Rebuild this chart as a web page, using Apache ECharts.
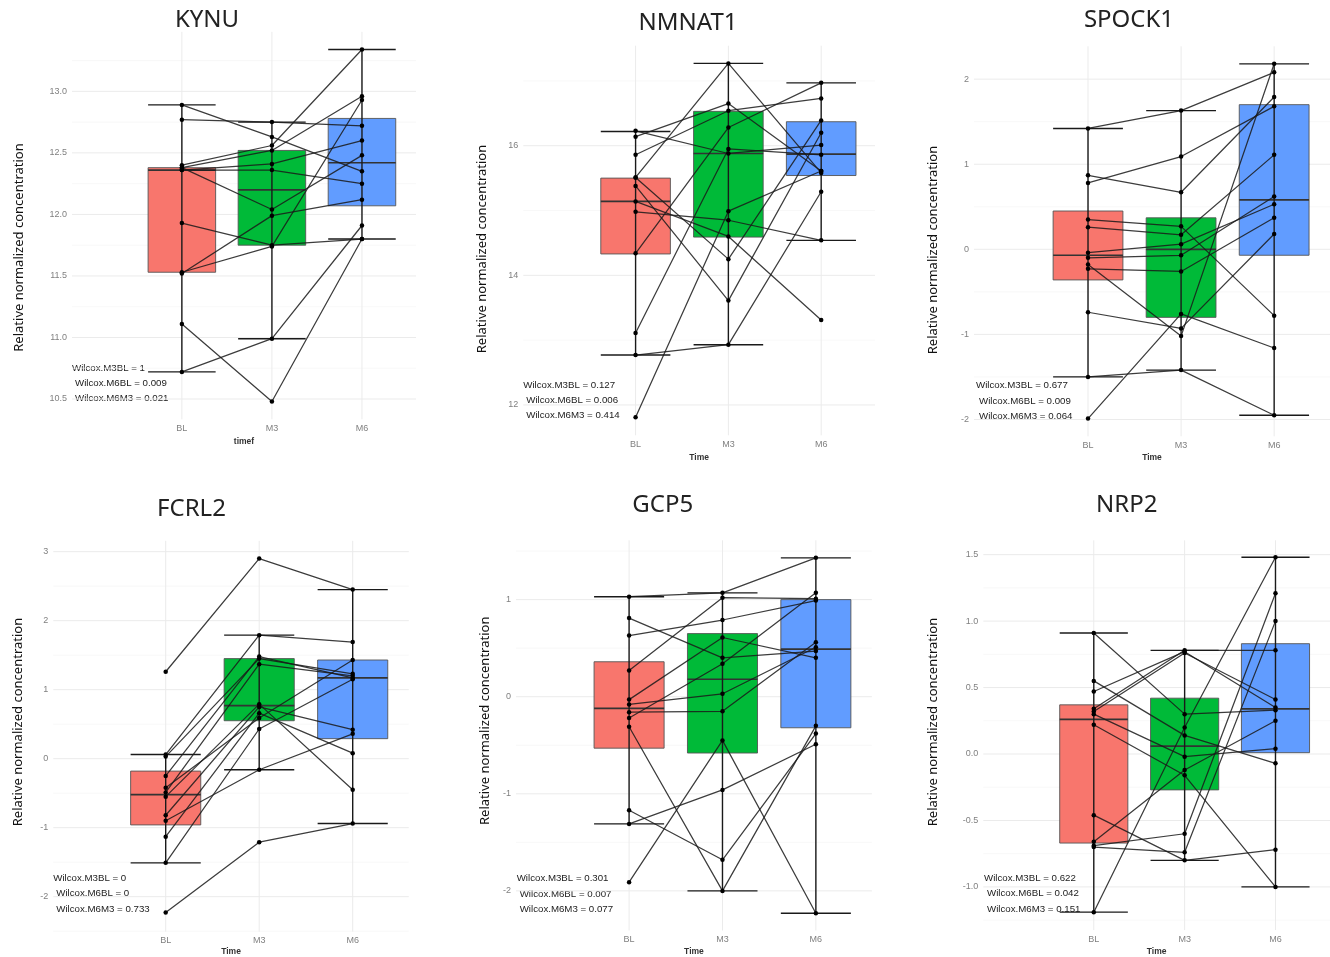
<!DOCTYPE html>
<html><head><meta charset="utf-8">
<script src="https://cdn.jsdelivr.net/npm/echarts@6/dist/echarts.min.js"></script>
<style>html,body{margin:0;padding:0;background:#fff}#c{width:1330px;height:957px}</style>
</head><body><div id="c"></div>
<script>
// ---------------- DATA ----------------
const timeLabels = ['BL', 'M3', 'M6'];
const genes = ['KYNU', 'NMNAT1', 'SPOCK1', 'FCRL2', 'GCP5', 'NRP2'];
const xAxisNames = ['timef', 'Time', 'Time', 'Time', 'Time', 'Time'];
const yTitle = 'Relative normalized concentration';

// subject trajectories [BL, M3, M6]
const kynuSubjects = [
  [12.89, 12.63, 12.35], [12.77, 12.75, 12.72], [12.40, 12.56, 13.34], [12.38, 12.52, 12.96],
  [12.36, 12.41, 12.60], [12.36, 12.36, 12.25], [11.93, 11.75, 11.80], [11.53, 11.74, 12.93],
  [11.52, 11.99, 12.12], [11.11, 10.48, 11.80], [10.72, 10.99, 11.91], [12.38, 12.04, 12.48]
];
const nmnat1Subjects = [
  [16.23, 15.88, 16.01], [16.14, 16.65, 15.61], [15.86, 16.54, 16.73], [15.51, 17.27, 15.58],
  [15.51, 14.25, 16.39], [15.38, 13.61, 16.20], [15.14, 14.60, 13.31], [14.98, 14.85, 14.54],
  [14.34, 16.28, 16.97], [13.11, 15.95, 15.86], [12.77, 12.93, 15.29], [11.81, 14.99, 15.61]
];
const spock1Subjects = [
  [1.42, 1.63, 2.08], [0.87, 0.67, 1.79], [0.78, 1.09, 1.68], [0.35, 0.27, -0.78],
  [0.26, 0.17, 1.11], [-0.04, 0.06, 0.53], [-0.10, -0.07, 0.62], [-0.18, -1.02, 2.18],
  [-0.23, -0.26, 0.37], [-0.74, -0.93, 0.18], [-1.50, -1.42, -1.95], [-1.99, -0.76, -1.16]
];
const fcrl2Subjects = [
  [1.26, 2.90, 2.45], [0.06, 1.79, 1.69], [0.03, 1.45, 1.23], [-0.25, 1.48, 1.17],
  [-0.42, 0.59, 1.43], [-0.49, 1.37, 1.20], [-0.55, 0.79, -0.45], [-0.82, 0.75, 0.42],
  [-0.90, -0.16, 0.36], [-1.13, 0.66, 0.08], [-1.51, 0.43, 1.15], [-2.23, -1.21, -0.94]
];
const gcp5Subjects = [
  [1.03, 1.07, 1.43], [0.81, 0.40, 0.47], [0.63, 0.79, 0.99], [0.27, 1.02, 1.01],
  [-0.03, 0.61, 0.40], [-0.08, 0.03, 0.51], [-0.16, -0.15, 0.56], [-0.22, 0.34, 1.07],
  [-0.31, -2.00, -0.30], [-1.17, -1.68, -0.38], [-1.31, -0.96, -0.49], [-1.91, -0.45, -2.23]
];
const nrp2Subjects = [
  [0.91, 0.30, 0.33], [0.55, 0.14, -0.07], [0.47, 0.77, 0.35], [0.34, 0.78, 0.78],
  [0.32, 0.76, 0.41], [0.30, -0.02, 0.04], [0.22, -0.16, -1.00], [-0.46, -0.80, -0.72],
  [-0.66, -0.12, 0.25], [-0.69, -0.60, 1.21], [-0.70, -0.74, 1.00], [-1.19, 0.20, 1.48]
];

// box statistics per time point: [lower whisker, Q1, median, Q3, upper whisker]
const kynuBoxes = [[10.72, 11.53, 12.36, 12.38, 12.89], [10.99, 11.75, 12.20, 12.52, 12.75], [11.80, 12.07, 12.42, 12.78, 13.34]];
const nmnat1Boxes = [[12.77, 14.33, 15.14, 15.50, 16.22], [12.93, 14.59, 15.88, 16.53, 17.27], [14.54, 15.54, 15.87, 16.37, 16.97]];
const spock1Boxes = [[-1.50, -0.36, -0.07, 0.45, 1.42], [-1.42, -0.80, 0.00, 0.37, 1.63], [-1.95, -0.07, 0.58, 1.70, 2.18]];
const fcrl2Boxes = [[-1.51, -0.96, -0.52, -0.18, 0.06], [-0.16, 0.55, 0.77, 1.45, 1.79], [-0.94, 0.29, 1.17, 1.43, 2.45]];
const gcp5Boxes = [[-1.31, -0.53, -0.12, 0.36, 1.03], [-2.00, -0.58, 0.18, 0.65, 1.07], [-2.23, -0.32, 0.49, 1.00, 1.43]];
const nrp2Boxes = [[-1.19, -0.67, 0.26, 0.37, 0.91], [-0.80, -0.27, 0.06, 0.42, 0.78], [-1.00, 0.01, 0.34, 0.83, 1.48]];

// y tick labels
const kynuTicks = [10.5, 11.0, 11.5, 12.0, 12.5, 13.0];
const nmnat1Ticks = [12, 14, 16];
const spock1Ticks = [-2, -1, 0, 1, 2];
const fcrl2Ticks = [-2, -1, 0, 1, 2, 3];
const gcp5Ticks = [-2, -1, 0, 1];
const nrp2Ticks = [-1.0, -0.5, 0.0, 0.5, 1.0, 1.5];

// Wilcoxon annotations
const kynuWilcox = ['Wilcox.M3BL = 1', 'Wilcox.M6BL = 0.009', 'Wilcox.M6M3 = 0.021'];
const nmnat1Wilcox = ['Wilcox.M3BL = 0.127', 'Wilcox.M6BL = 0.006', 'Wilcox.M6M3 = 0.414'];
const spock1Wilcox = ['Wilcox.M3BL = 0.677', 'Wilcox.M6BL = 0.009', 'Wilcox.M6M3 = 0.064'];
const fcrl2Wilcox = ['Wilcox.M3BL = 0', 'Wilcox.M6BL = 0', 'Wilcox.M6M3 = 0.733'];
const gcp5Wilcox = ['Wilcox.M3BL = 0.301', 'Wilcox.M6BL = 0.007', 'Wilcox.M6M3 = 0.077'];
const nrp2Wilcox = ['Wilcox.M3BL = 0.622', 'Wilcox.M6BL = 0.042', 'Wilcox.M6M3 = 0.151'];

// ---------------- LAYOUT / STYLE ----------------
const panels = [
  { subjects: kynuSubjects, boxes: kynuBoxes, ticks: kynuTicks, dec: 1, wilcox: kynuWilcox },
  { subjects: nmnat1Subjects, boxes: nmnat1Boxes, ticks: nmnat1Ticks, dec: 0, wilcox: nmnat1Wilcox },
  { subjects: spock1Subjects, boxes: spock1Boxes, ticks: spock1Ticks, dec: 0, wilcox: spock1Wilcox },
  { subjects: fcrl2Subjects, boxes: fcrl2Boxes, ticks: fcrl2Ticks, dec: 0, wilcox: fcrl2Wilcox },
  { subjects: gcp5Subjects, boxes: gcp5Boxes, ticks: gcp5Ticks, dec: 0, wilcox: gcp5Wilcox },
  { subjects: nrp2Subjects, boxes: nrp2Boxes, ticks: nrp2Ticks, dec: 1, wilcox: nrp2Wilcox }
];
const layouts = [
  { left: 72, top: 31.8, width: 344, height: 387.5, xMin: -0.22, xMax: 3.6, yMin: 10.335, yMax: 13.484, nameGap: 18, title: [207, 20.5], yt: [19, 247.5], wx: [72, 368] },
  { left: 523.3, top: 45.7, width: 351.7, height: 389.6, xMin: -0.21, xMax: 3.58, yMin: 11.532, yMax: 17.543, nameGap: 17.7, title: [688, 22.8], yt: [482.7, 249], wx: [523.3, 385] },
  { left: 974, top: 46.3, width: 356.9, height: 390, xMin: -0.225, xMax: 3.6, yMin: -2.198, yMax: 2.386, nameGap: 16.8, title: [1129, 20], yt: [933.3, 250], wx: [976, 385.7] },
  { left: 53.3, top: 540.8, width: 355.5, height: 390.9, xMin: -0.202, xMax: 3.6, yMin: -2.5075, yMax: 3.1575, nameGap: 15, title: [191.5, 508.8], yt: [18.3, 722], wx: [53.3, 878.3] },
  { left: 516, top: 540.3, width: 355.9, height: 390.2, xMin: -0.211, xMax: 3.6, yMin: -2.408, yMax: 1.611, nameGap: 16.2, title: [662.7, 505], yt: [485, 720.8], wx: [516.7, 878.7] },
  { left: 983.3, top: 540.3, width: 347.4, height: 389.8, xMin: -0.216, xMax: 3.6, yMin: -1.325, yMax: 1.608, nameGap: 16.6, title: [1126.7, 505], yt: [933.3, 722], wx: [984, 878.3] }
];
const boxColors = ['#F8766D', '#00BA38', '#619CFF'];

function gridRender(params, api) {
  const cs = params.coordSys;
  const o = api.value(0), v = api.value(1), major = api.value(2);
  const style = { stroke: major ? '#ebebeb' : '#f5f5f5', lineWidth: major ? 1 : 0.7 };
  if (o === 0) {
    const y = api.coord([1, v])[1];
    return { type: 'line', shape: { x1: cs.x, y1: y, x2: cs.x + cs.width, y2: y }, style };
  }
  const x = api.coord([v, 0])[0];
  return { type: 'line', shape: { x1: x, y1: cs.y, x2: x, y2: cs.y + cs.height }, style };
}

function boxRender(params, api) {
  const x = api.value(0), lo = api.value(1), q1 = api.value(2), med = api.value(3), q3 = api.value(4), hi = api.value(5), ci = api.value(6);
  const hw = 0.375;
  const tl = api.coord([x - hw, q3]), br = api.coord([x + hw, q1]);
  const mL = api.coord([x - hw, med]), mR = api.coord([x + hw, med]);
  const top = api.coord([x, hi]), bot = api.coord([x, lo]);
  const cl = api.coord([x - hw, hi]), cr = api.coord([x + hw, hi]);
  const dl = api.coord([x - hw, lo]), dr = api.coord([x + hw, lo]);
  const wStyle = { stroke: '#1a1a1a', lineWidth: 1.4 };
  return {
    type: 'group', children: [
      { type: 'rect', shape: { x: tl[0], y: tl[1], width: br[0] - tl[0], height: br[1] - tl[1] }, style: { fill: boxColors[ci], stroke: '#555', lineWidth: 0.9 } },
      { type: 'line', shape: { x1: mL[0], y1: mL[1], x2: mR[0], y2: mR[1] }, style: { stroke: '#333', lineWidth: 1.7 } },
      { type: 'line', shape: { x1: top[0], y1: top[1], x2: bot[0], y2: bot[1] }, style: wStyle },
      { type: 'line', shape: { x1: cl[0], y1: cl[1], x2: cr[0], y2: cr[1] }, style: wStyle },
      { type: 'line', shape: { x1: dl[0], y1: dl[1], x2: dr[0], y2: dr[1] }, style: wStyle }
    ]
  };
}

const option = { animation: false, backgroundColor: '#fff', grid: [], xAxis: [], yAxis: [], series: [], graphic: [] };

panels.forEach((p, i) => {
  const L = layouts[i];
  option.grid.push({ left: L.left, top: L.top, width: L.width, height: L.height });
  option.xAxis.push({
    gridIndex: i, type: 'value', min: L.xMin, max: L.xMax,
    axisLine: { show: false }, axisTick: { show: false }, splitLine: { show: false },
    axisLabel: { customValues: [1, 2, 3], formatter: v => timeLabels[Math.round(v) - 1] || '', color: '#808080', fontSize: 9, margin: 4.5, fontFamily: 'Liberation Sans' },
    name: xAxisNames[i], nameLocation: 'middle', nameGap: L.nameGap,
    nameTextStyle: { fontWeight: 'bold', fontSize: 8.5, color: '#333', fontFamily: 'Liberation Sans' }
  });
  option.yAxis.push({
    gridIndex: i, type: 'value', min: L.yMin, max: L.yMax,
    axisLine: { show: false }, axisTick: { show: false }, splitLine: { show: false },
    axisLabel: { customValues: p.ticks, formatter: v => Number(v).toFixed(p.dec), color: '#808080', fontSize: 9, margin: 5, fontFamily: 'Liberation Sans' }
  });
  // grid lines (major at ticks, minor halfway)
  const step = p.ticks[1] - p.ticks[0];
  const gl = [];
  p.ticks.forEach(t => gl.push([0, t, 1]));
  [p.ticks[0] - step / 2].concat(p.ticks.map(t => t + step / 2))
    .filter(t => t > L.yMin && t < L.yMax).forEach(t => gl.push([0, t, 0]));
  [1, 2, 3].forEach(c => gl.push([1, c, 1]));
  option.series.push({ type: 'custom', xAxisIndex: i, yAxisIndex: i, silent: true, z: 0, clip: false, data: gl, renderItem: gridRender });
  // boxes + whiskers
  option.series.push({ type: 'custom', xAxisIndex: i, yAxisIndex: i, silent: true, z: 1, clip: false,
    data: p.boxes.map((b, k) => [k + 1].concat(b).concat([k])), renderItem: boxRender });
  // paired subject lines
  p.subjects.forEach(s => option.series.push({
    type: 'line', xAxisIndex: i, yAxisIndex: i, z: 3, silent: true,
    data: s.map((v, k) => [k + 1, v]), symbol: 'circle', symbolSize: 4.5, showSymbol: true,
    lineStyle: { color: '#1a1a1a', width: 1.25, opacity: 0.85 }, itemStyle: { color: '#000' }
  }));
  // texts
  option.graphic.push({ type: 'text', x: L.title[0], y: L.title[1], style: { text: genes[i], fontSize: 24, fontFamily: 'Noto Sans', fill: '#222', align: 'center', verticalAlign: 'middle' } });
  option.graphic.push({ type: 'text', x: L.yt[0], y: L.yt[1], rotation: Math.PI / 2, style: { text: yTitle, fontSize: 13, fontFamily: 'Noto Sans', fill: '#111', align: 'center', verticalAlign: 'middle' } });
  p.wilcox.forEach((t, k) => option.graphic.push({
    type: 'text', x: L.wx[0] + (k ? 3 : 0), y: L.wx[1] + k * 15.4,
    style: { text: t, fontSize: 9.7, fontFamily: 'Liberation Sans', fill: '#222', align: 'left', verticalAlign: 'middle' }
  }));
});

const chart = echarts.init(document.getElementById('c'), null, { renderer: 'canvas' });
chart.setOption(option);
</script></body></html>
